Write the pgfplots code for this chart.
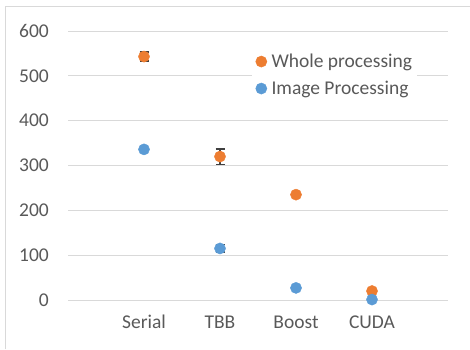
\documentclass[border=0pt]{standalone}
\usepackage{fontspec}
\setmainfont{Carlito}
\usepackage{pgfplots}
\pgfplotsset{compat=1.18}
\definecolor{wholeC}{HTML}{ED7D31}
\definecolor{imageC}{HTML}{5B9BD5}
\definecolor{gridC}{HTML}{D9D9D9}
\definecolor{textC}{HTML}{595959}
\definecolor{errC}{HTML}{404040}
\begin{document}
\begin{tikzpicture}[x=1pt,y=1pt]
\useasboundingbox (0,0) rectangle (470,349);
% chart frame
\draw[gridC, line width=1pt] (5,0) -- (5,342) -- (470,342);
\begin{axis}[
  at={(68pt,49pt)}, anchor=origin,
  scale only axis, width=380pt, height=269pt,
  xmin=0, xmax=5, ymin=0, ymax=600,
  xtick={1,2,3,4},
  xticklabels={Serial,TBB,Boost,CUDA},
  ytick={0,100,...,600},
  ymajorgrids, grid style={gridC, line width=1pt},
  axis line style={draw=none},
  major tick length=0pt,
  /pgf/number format/assume math mode=true,
  tick label style={font=\fontsize{19.5}{22}\selectfont, text=textC, inner sep=0pt},
  yticklabel style={anchor=east, xshift=-19pt},
  xticklabel style={anchor=base, yshift=-28pt},
  clip=false,
  legend style={at={(0.484,0.93)}, anchor=north west, draw=none, fill=white,
    font=\fontsize{19.5}{22}\selectfont, text=textC,
    inner xsep=3pt, inner ysep=2pt, row sep=8pt,
    legend cell align=left},
  legend image code/.code={%
    \path (0pt,0pt) (14pt,0pt);
    \draw[#1] plot coordinates {(6pt,0pt)};},
  error bars/error bar style={errC, line width=1.2pt},
  error bars/error mark options={errC, rotate=90, mark size=4.5pt, line width=1.2pt},
]
\addplot[wholeC, only marks, mark=*, mark size=5.6pt, mark options={draw=none, fill=wholeC},
  error bars/.cd, y dir=both, y explicit]
  coordinates {(1,543) +- (0,10) (2,320) +- (0,17) (3,235) +- (0,2) (4,20) +- (0,3)};
\addlegendentry{Whole processing}
\addplot[imageC, only marks, mark=*, mark size=5.6pt, mark options={draw=none, fill=imageC},
  error bars/.cd, y dir=both, y explicit]
  coordinates {(1,336) +- (0,2) (2,115) +- (0,8) (3,27) +- (0,1) (4,1) +- (0,1)};
\addlegendentry{Image Processing}
\end{axis}
\end{tikzpicture}
\end{document}
